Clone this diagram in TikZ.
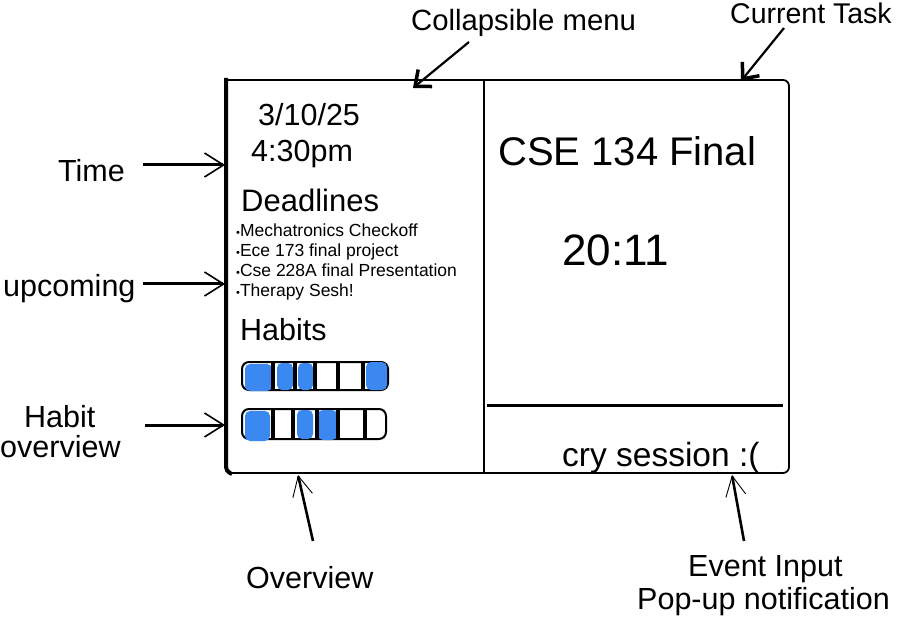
\documentclass[tikz,border=0pt]{standalone}
\usepackage{fontspec}
\setmainfont{Liberation Sans}
\usetikzlibrary{arrows.meta}
\definecolor{habitblue}{RGB}{59,137,240}
\newcommand{\smbul}{{\fontsize{11}{11}\selectfont\raisebox{0.6pt}{•}}}
\tikzset{
  lbl/.style={inner sep=0pt, anchor=base west, font=\fontsize{30.5}{36}\selectfont},
  txt/.style={inner sep=0pt, anchor=base west},
  dl/.style={inner sep=0pt, anchor=base west, font=\fontsize{17.5}{20}\selectfont},
  leftarr/.style={line width=3pt, -{Straight Barb[length=19pt,width=24pt,line width=1.6pt]}},
  toparr/.style={line width=2.2pt, -{Straight Barb[length=13pt,width=22pt,line width=3.5pt]}},
  botarr/.style={line width=2.6pt, -{Straight Barb[length=20pt,width=20pt,line width=0.9pt]}},
  bar/.style={draw=black, line width=2pt, fill=white, rounded corners=7pt},
  blob/.style={fill=habitblue, rounded corners=5pt},
  tick/.style={line width=3.5pt, black},
}
\begin{document}
\begin{tikzpicture}[x=1pt,y=-1pt]
\useasboundingbox (0,0) rectangle (907,617);
% frame
\draw[line width=1.8pt, rounded corners=6pt] (228,80) -- (789,80) -- (789,473) -- (228,473);
\draw[line width=4pt, rounded corners=4pt] (226,78) -- (226,471) -- (232,474);
\draw[line width=1.5pt] (484,80) -- (484,473);
\draw[line width=3pt] (487,405) -- (783,405);
% left panel text
\node[lbl] (date) at (258,126) {3/10/25};
\node[lbl] (time) at (251,162) {4:30pm};
\node[lbl, font=\fontsize{31}{36}\selectfont] (deadl) at (241,212) {Deadlines};
\node[dl] (d1) at (236,237) {\smbul Mechatronics Checkoff};
\node[dl] (d2) at (236,257) {\smbul Ece 173 final project};
\node[dl] (d3) at (236,277) {\smbul Cse 228A final Presentation};
\node[dl] (d4) at (236,297) {\smbul Therapy Sesh!};
\node[lbl] (habits) at (240,341) {Habits};
% habit bar 1
\draw[bar] (242,362) rectangle (388,390);
\fill[blob] (245,364) rectangle (272,391);
\fill[blob] (277,363) rectangle (293,390);
\fill[blob] (298,363) rectangle (313,390);
\fill[blob] (366,362) rectangle (387,390);
\foreach \x in {273,295,315,338,363} \draw[tick] (\x,362) -- (\x,390);
% habit bar 2
\draw[bar] (242,409) rectangle (386,439);
\fill[blob] (245,411) rectangle (270,441);
\fill[blob] (297,410) rectangle (313,439);
\fill[blob] (318,410) rectangle (337,440);
\foreach \x in {273,293,317,338,365} \draw[tick] (\x,409) -- (\x,439);
% right panel text
\node[txt, font=\fontsize{40}{46}\selectfont] (task) at (498,166) {CSE 134 Final};
\node[txt, font=\fontsize{44}{50}\selectfont] (timer) at (562,266) {20:11};
\node[txt, font=\fontsize{33.5}{40}\selectfont] (event) at (562,466) {cry session :(};
% annotation labels
\node[lbl] (lTime) at (58,182) {Time};
\node[lbl] (lUp) at (3,297) {upcoming};
\node[lbl] (lHab1) at (24,427) {Habit};
\node[lbl] (lHab2) at (0,457) {overview};
\node[lbl, font=\fontsize{29.3}{36}\selectfont] (lMenu) at (411,31) {Collapsible menu};
\node[lbl, font=\fontsize{28.5}{36}\selectfont] (lTask) at (730,24) {Current Task};
\node[lbl] (lOver) at (246,588) {Overview};
\node[lbl] (lEv1) at (688,576) {Event Input};
\node[lbl] (lEv2) at (637,609) {Pop-up notification};
% arrow coordinates
\coordinate (aT0) at (143,165); \coordinate (aT1) at (225,165);
\coordinate (aU0) at (143,284); \coordinate (aU1) at (225,284);
\coordinate (aH0) at (145,425); \coordinate (aH1) at (225,425);
\coordinate (aM0) at (469,42); \coordinate (aM1) at (413,88);
\coordinate (aC0) at (784,28); \coordinate (aC1) at (741,81);
\coordinate (aO0) at (313,541); \coordinate (aO1) at (298,475);
\coordinate (aE0) at (744,541); \coordinate (aE1) at (732,475);
\draw[leftarr] (aT0) -- (aT1);
\draw[leftarr] (aU0) -- (aU1);
\draw[leftarr] (aH0) -- (aH1);
\draw[toparr] (aM0) -- (aM1);
\draw[toparr] (aC0) -- (aC1);
\draw[botarr] (aO0) -- (aO1);
\draw[botarr] (aE0) -- (aE1);
\end{tikzpicture}
\end{document}
